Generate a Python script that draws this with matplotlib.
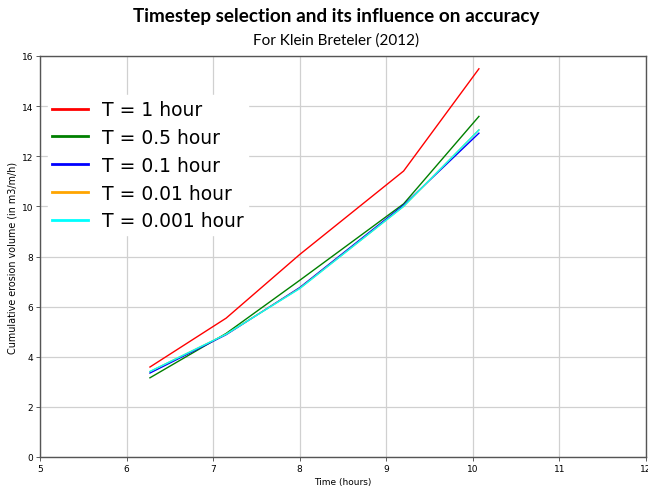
import numpy as np
import matplotlib.pyplot as plt

# Tijdstippen (uren) en cumulatief erosievolume per tijdstap
time_h = [6.27, 7.15, 8.0, 9.2, 10.07]
vol_1h = [3.59, 5.54, 8.08, 11.41, 15.49]
vol_05h = [3.16, 4.93, 7.05, 10.10, 13.59]
vol_01h = [3.35, 4.88, 6.76, 10.05, 12.92]
vol_001h = [3.41, 4.90, 6.73, 10.00, 13.05]
vol_0001h = [3.41, 4.90, 6.72, 10.00, 13.05]

labels = ['T = 1 hour', 'T = 0.5 hour', 'T = 0.1 hour', 'T = 0.01 hour', 'T = 0.001 hour']
colors = ['red', 'green', 'blue', 'orange', 'cyan']
series = [vol_1h, vol_05h, vol_01h, vol_001h, vol_0001h]

fig = plt.figure(figsize=(6.48, 4.89), dpi=100)
ax = fig.add_axes([40 / 648, 31 / 489, 606 / 648, 401 / 489])

for vals, lab, col in zip(series, labels, colors):
    ax.plot(time_h, vals, color=col, lw=1.0, label=lab)

ax.set_xlim(5, 12)
ax.set_ylim(0, 16)
ax.set_xticks(range(5, 13))
ax.set_yticks(range(0, 17, 2))
ax.grid(True, color='#d0d0d0', lw=0.9)
ax.tick_params(labelsize=6.5, length=3, width=0.6, color='#444444', pad=2)
for s in ax.spines.values():
    s.set_color('#555555')
    s.set_linewidth(1.0)

ax.set_xlabel('Time (hours)', fontsize=6.5, labelpad=3)
ax.set_ylabel('Cumulative erosion volume (in m3/m/h)', fontsize=6.9, labelpad=3)

leg = ax.legend(loc='upper left', bbox_to_anchor=(-0.003, 0.925), fontsize=13.5,
                frameon=True, fancybox=False, edgecolor='white', framealpha=1,
                handlelength=1.9, handletextpad=0.75, labelspacing=0.47, borderpad=0.25)
for h in leg.get_lines():
    h.set_linewidth(2.0)

fig.text(0.519, 0.966, 'Timestep selection and its influence on accuracy',
         ha='center', va='center', fontsize=13.6, fontweight='bold', family='Lato')
fig.text(0.519, 0.918, 'For Klein Breteler (2012)',
         ha='center', va='center', fontsize=11, family='Lato')

fig.savefig('out.png', dpi=100)
